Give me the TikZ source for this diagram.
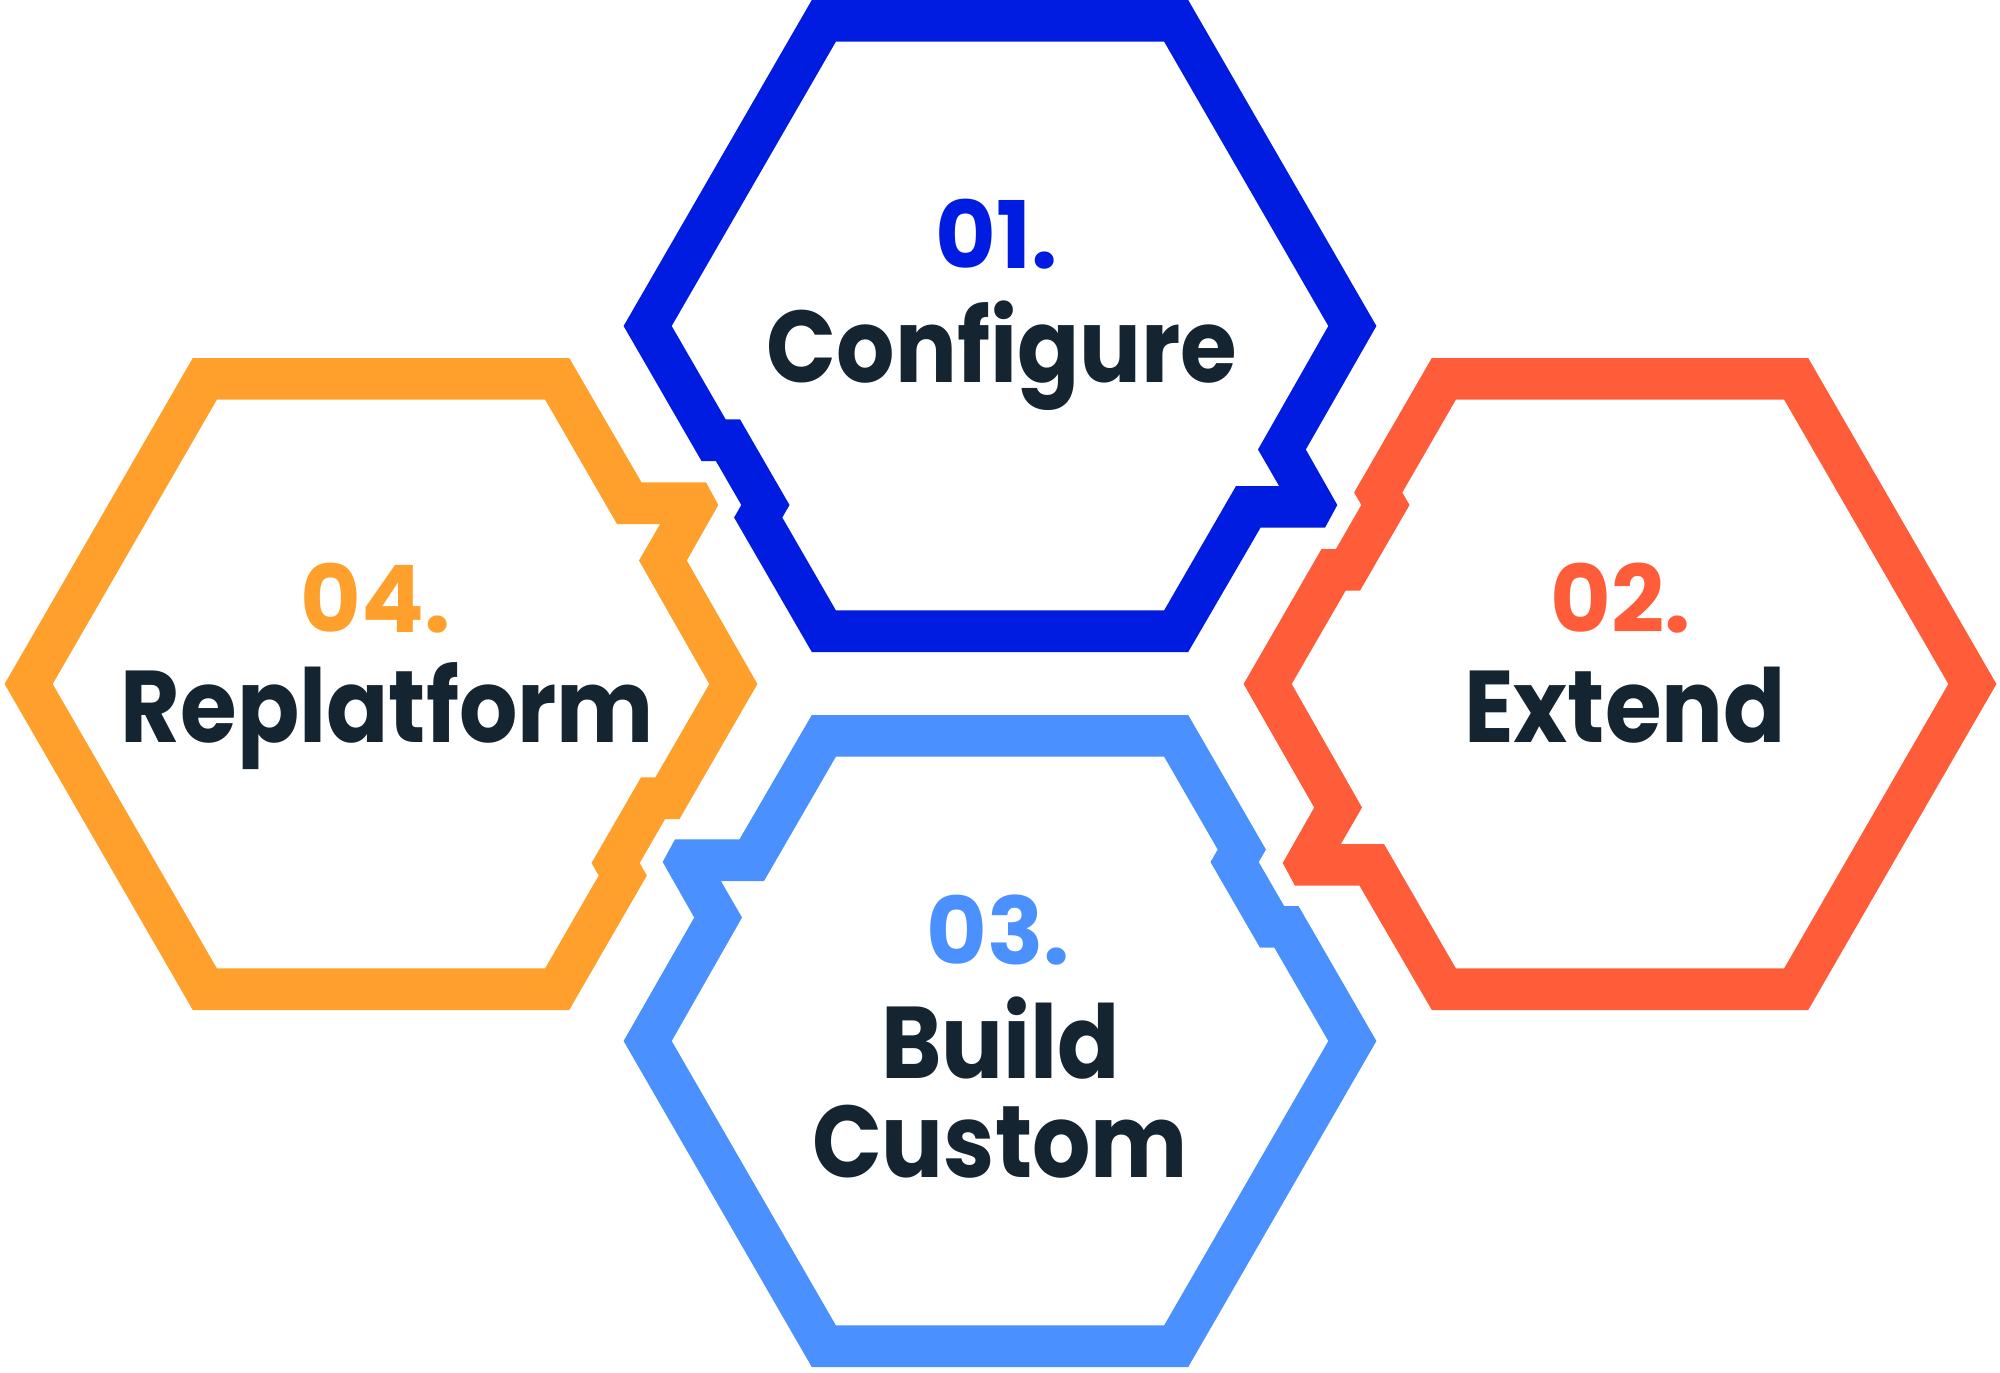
\documentclass[tikz,border=0pt]{standalone}
\usepackage{fontspec}
\setmainfont{Poppins}
\newfontfamily\labfont{Poppins}[FakeStretch=0.9]
\definecolor{hexblue}{RGB}{0,28,224}
\definecolor{hexorange}{RGB}{255,160,45}
\definecolor{hexred}{RGB}{255,92,57}
\definecolor{hexlight}{RGB}{74,144,255}
\definecolor{ink}{RGB}{20,36,48}
\tikzset{
  numtext/.style={font=\fontsize{26.5}{29}\selectfont\bfseries, anchor=base, inner sep=0pt},
  labtext/.style={font=\labfont\fontsize{29}{32}\selectfont\bfseries, text=ink, anchor=base, inner sep=0pt},
}
\begin{document}
\begin{tikzpicture}[x=0.01cm,y=-0.01cm]
\useasboundingbox (0,0) rectangle (2000,1372);
% blue hexagon (top)
\begin{scope}[shift={(1000,326)}]
\fill[hexblue, even odd rule]
 (-188.2,-326) -- (188.2,-326) -- (376.4,0) -- (305.8,123.5) -- (337.3,179) -- (325,201.7) -- (260.5,201.7) -- (188.2,326) -- (-188.2,326) -- (-265.9,191.5) -- (-258.7,179) -- (-284.1,135) -- (-298.5,135) -- (-376.4,0) -- cycle
 (-164.15,-284.3) -- (164.15,-284.3) -- (328.3,0) -- (258,123.5) -- (279.1,160) -- (236,160) -- (164.15,284.3) -- (-164.15,284.3) -- (-217.7,191.5) -- (-210.5,179) -- (-260,93.3) -- (-274.4,93.3) -- (-328.3,0) -- cycle;
\end{scope}
% light blue hexagon (bottom)
\begin{scope}[shift={(1000,1041)}, rotate=180]
\fill[hexlight, even odd rule]
 (-188.2,-326) -- (188.2,-326) -- (376.4,0) -- (305.8,123.5) -- (337.3,179) -- (325,201.7) -- (260.5,201.7) -- (188.2,326) -- (-188.2,326) -- (-265.9,191.5) -- (-258.7,179) -- (-284.1,135) -- (-298.5,135) -- (-376.4,0) -- cycle
 (-164.15,-284.3) -- (164.15,-284.3) -- (328.3,0) -- (258,123.5) -- (279.1,160) -- (236,160) -- (164.15,284.3) -- (-164.15,284.3) -- (-217.7,191.5) -- (-210.5,179) -- (-260,93.3) -- (-274.4,93.3) -- (-328.3,0) -- cycle;
\end{scope}
% orange hexagon (left)
\begin{scope}[shift={(381,684)}]
\fill[hexorange, even odd rule]
 (-188.2,-326) -- (188.2,-326) -- (260.5,-201.7) -- (325,-201.7) -- (337.3,-179) -- (305.8,-123.5) -- (376.4,0) -- (298.5,135) -- (284.1,135) -- (258.7,179) -- (265.9,191.5) -- (188.2,326) -- (-188.2,326) -- (-376.4,0) -- cycle
 (-164.15,-284.3) -- (164.15,-284.3) -- (236,-160) -- (279.1,-160) -- (258,-123.5) -- (328.3,0) -- (274.4,93.3) -- (260,93.3) -- (210.5,179) -- (217.7,191.5) -- (164.15,284.3) -- (-164.15,284.3) -- (-328.3,0) -- cycle;
\end{scope}
% red hexagon (right)
\begin{scope}[shift={(1620,684)}, rotate=180]
\fill[hexred, even odd rule]
 (-188.2,-326) -- (188.2,-326) -- (260.5,-201.7) -- (325,-201.7) -- (337.3,-179) -- (305.8,-123.5) -- (376.4,0) -- (298.5,135) -- (284.1,135) -- (258.7,179) -- (265.9,191.5) -- (188.2,326) -- (-188.2,326) -- (-376.4,0) -- cycle
 (-164.15,-284.3) -- (164.15,-284.3) -- (236,-160) -- (279.1,-160) -- (258,-123.5) -- (328.3,0) -- (274.4,93.3) -- (260,93.3) -- (210.5,179) -- (217.7,191.5) -- (164.15,284.3) -- (-164.15,284.3) -- (-328.3,0) -- cycle;
\end{scope}
% texts
\node[numtext, text=hexblue] (n1) at (997,268) {01.};
\node[labtext] (t1) at (1002,382.5) {Configure};
\node[numtext, text=hexred] (n2) at (1621,632.6) {02.};
\node[labtext] (t2) at (1625,742) {Extend};
\node[numtext, text=hexorange] (n4) at (375.5,632.6) {04.};
\node[labtext] (t4) at (387.5,742) {Replatform};
\node[numtext, text=hexlight] (n3) at (998,964) {03.};
\node[labtext] (t3a) at (1000.5,1078) {Build};
\node[labtext] (t3b) at (1000,1177) {Custom};
\end{tikzpicture}
\end{document}
